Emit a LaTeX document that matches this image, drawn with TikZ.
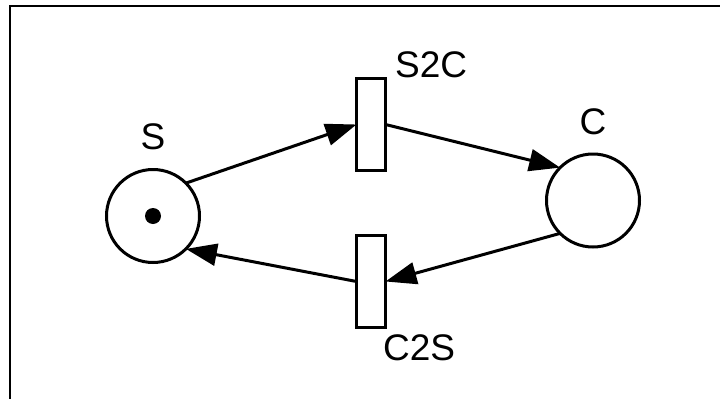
\documentclass[tikz,border=0pt]{standalone}
\usepackage{fontspec}
\setmainfont{Liberation Sans}
\usetikzlibrary{arrows.meta}
\begin{document}
\begin{tikzpicture}[x=1pt,y=-1pt,
  place/.style={circle,draw,line width=3pt,fill=white,minimum size=93pt,inner sep=0pt,outer sep=0pt},
  trans/.style={rectangle,draw,line width=3pt,fill=white,minimum width=29pt,minimum height=92pt,inner sep=0pt,outer sep=0pt},
  token/.style={circle,fill=black,minimum size=16pt,inner sep=0pt},
  lbl/.style={inner sep=0pt,font=\fontsize{37}{44}\selectfont},
  arc/.style={line width=3pt,-{Triangle[length=31pt,width=22pt]}}]
\useasboundingbox (0,0) rectangle (720,399);
% frame
\draw[line width=2pt] (720,6) -- (10,6) -- (10,399);
% places
\node[place] (S) at (153,216) {};
\node[token] (tok) at (153,216) {};
\node[place] (C) at (593,200.5) {};
% transitions
\node[trans] (S2C) at (371,124.5) {};
\node[trans] (C2S) at (371,281.5) {};
% labels
\node[lbl] (lS) at (153,137) {S};
\node[lbl] (lC) at (593,122) {C};
\node[lbl,anchor=west] (lS2C) at (395,65) {S2C};
\node[lbl,anchor=west] (lC2S) at (383,348) {C2S};
% arcs
\draw[arc] (S.45) -- (S2C.west);
\draw[arc] (S2C.east) -- (C.135);
\draw[arc] (C.225) -- (C2S.east);
\draw[arc] (C2S.west) -- (S.-45);
\end{tikzpicture}
\end{document}
